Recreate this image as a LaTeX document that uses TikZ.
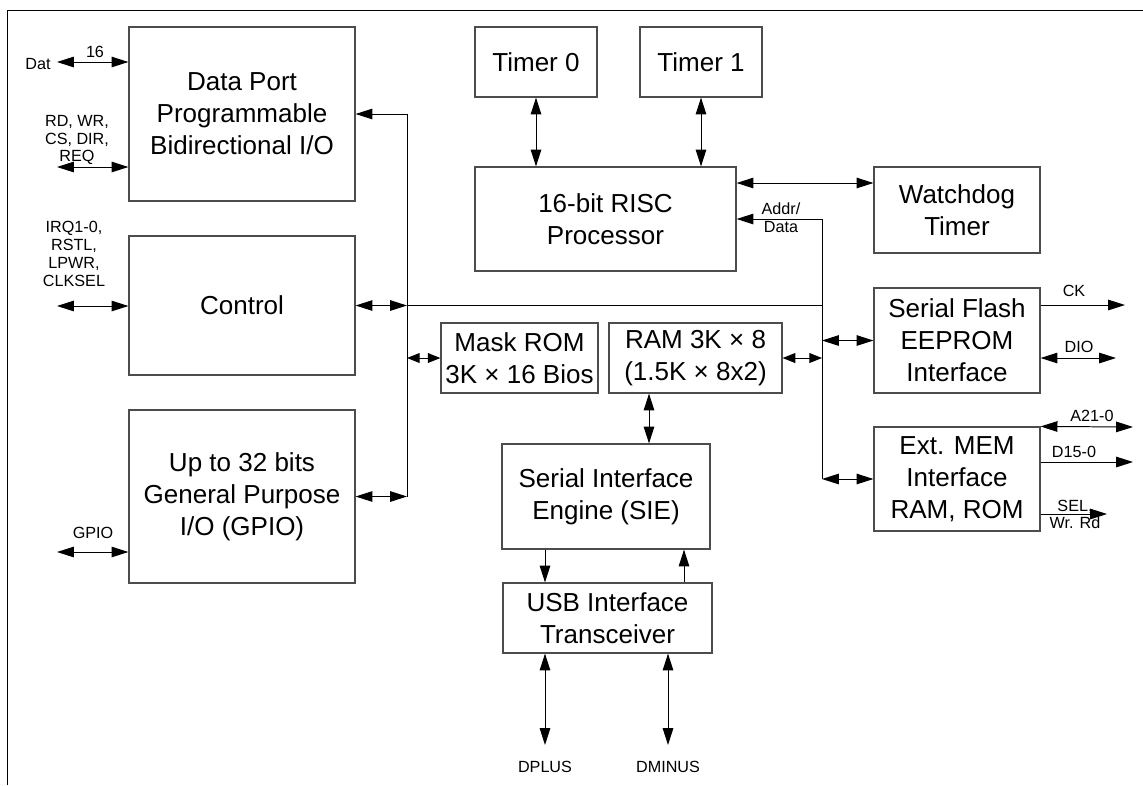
\documentclass[tikz,border=0pt]{standalone}
\usepackage{fontspec}
\setmainfont{Liberation Sans}
\usetikzlibrary{arrows.meta,positioning}

\begin{document}
\begin{tikzpicture}[x=0.025cm,y=-0.025cm,line width=0.7pt,
   >={Triangle[length=12pt,width=7.5pt]},
   blk/.style={draw=black!70,line width=0.8pt,align=center,inner sep=0pt,
      font=\fontsize{18.5}{22.8}\selectfont},
   lbl/.style={align=center,inner sep=0pt,font=\fontsize{11.5}{12.6}\selectfont},
   short/.style={{Triangle[length=9pt,width=7pt]}-{Triangle[length=9pt,width=7pt]}}]
   \useasboundingbox (0,0) rectangle (1143,785);
   \draw (7,785) -- (7,10) -- (1143,10);

   \node[blk,minimum width=5.65cm,minimum height=4.35cm] (dport) at (242,114) {Data Port\\Programmable\\Bidirectional I/O};
   \node[blk,minimum width=5.65cm,minimum height=3.475cm] (ctrl) at (242,305.5) {Control};
   \node[blk,minimum width=5.65cm,minimum height=4.325cm] (gpio) at (242,496.5) {Up to 32 bits\\General Purpose\\I/O (GPIO)};
   \node[blk,minimum width=3.05cm,minimum height=1.75cm] (timer0) at (536,62) {Timer 0};
   \node[blk,minimum width=3.05cm,minimum height=1.75cm] (timer1) at (701,62) {Timer 1};
   \node[blk,minimum width=6.525cm,minimum height=2.6cm] (risc) at (605.5,219) {16-bit RISC\\Processor};
   \node[blk,minimum width=4.15cm,minimum height=2.15cm] (wdog) at (957,210) {Watchdog\\Timer};
   \node[blk,minimum width=4.15cm,minimum height=2.625cm] (flash) at (957,340.5) {Serial Flash\\EEPROM\\Interface};
   \node[blk,minimum width=4.15cm,minimum height=2.6cm] (extmem) at (957,479) {Ext. MEM\\Interface\\RAM, ROM};
   \node[blk,minimum width=3.925cm,minimum height=1.75cm] (mrom) at (519.5,358) {Mask ROM\\3K × 16 Bios};
   \node[blk,minimum width=4.325cm,minimum height=1.75cm] (ram) at (695.5,358) {RAM 3K × 8\\(1.5K × 8x2)};
   \node[blk,minimum width=5.2cm,minimum height=2.625cm] (sie) at (606,496.5) {Serial Interface\\Engine (SIE)};
   \node[blk,minimum width=5.225cm,minimum height=1.75cm] (usb) at (607.5,618) {USB Interface\\Transceiver};

   \coordinate (dat_end) at (57,62);
   \coordinate (rd_end) at (57,167);
   \coordinate (irq_end) at (57,306);
   \coordinate (gpio_end) at (57,552);
   \coordinate (bus_top) at (407,114);
   \coordinate (bus_bot) at (407,497);
   \coordinate (ad_top) at (822,219);
   \coordinate (ad_bot) at (822,479);
   \coordinate (dplus_end) at (545,745);
   \coordinate (dminus_end) at (668,745);
   \coordinate (ck_end) at (1125,305);
   \coordinate (dio_end) at (1116,358);
   \coordinate (a_end) at (1133,427);
   \coordinate (d_end) at (1133,462);
   \coordinate (sel_end) at (1107,514);

   \node[lbl] at (38,64) {Dat};
   \node[lbl] at (95,52) {16};
   \node[lbl] at (77,140) {RD, WR,\\CS, DIR,\\REQ};
   \node[lbl] at (74,254) {IRQ1-0,\\RSTL,\\LPWR,\\CLKSEL};
   \node[lbl] at (93,533) {GPIO};
   \node[lbl] at (781,218) {Addr/\\Data};
   \node[lbl] at (1074,291) {CK};
   \node[lbl] at (1079,347) {DIO};
   \node[lbl] at (1092,416) {A21-0};
   \node[lbl] at (1074,452) {D15-0};
   \node[lbl] at (1075,514.5) {SEL,\\Wr. Rd};
   \node[lbl] at (545,767) {DPLUS};
   \node[lbl] at (668,767) {DMINUS};

   \path[<->]
    (dat_end) edge (dat_end -| dport.west)
    (rd_end) edge (rd_end -| dport.west)
    (irq_end) edge (irq_end -| ctrl.west)
    (gpio_end) edge (gpio_end -| gpio.west)
    (ctrl.east) edge (ctrl.east -| bus_top)
    (gpio.east) edge (gpio.east -| bus_top)
    (mrom.west -| bus_top) edge [short] (mrom.west)
    (timer0.south) edge (timer0.south |- risc.north)
    (timer1.south) edge (timer1.south |- risc.north)
    (risc.east |- 0,183) edge (wdog.west |- 0,183)
    (ram.east) edge [short] (ram.east -| ad_top)
    (flash.west -| ad_top) edge (flash.west)
    (ad_bot) edge (extmem.west)
    (ram.south -| 649,0) edge (sie.north -| 649,0)
    (usb.south -| dplus_end) edge (dplus_end)
    (usb.south -| dminus_end) edge (dminus_end)
    (flash.east |- dio_end) edge (dio_end)
    (extmem.north east) edge (a_end);
   \path[->]
    (sie.south -| 545,0) edge (usb.north -| 545,0)
    (usb.north -| 684,0) edge (sie.south -| 684,0)
    (flash.east |- ck_end) edge (ck_end)
    (extmem.east |- d_end) edge (d_end)
    (extmem.east |- sel_end) edge (sel_end);

   \draw[->] (bus_bot) |- (dport.east);
   \draw[->] (ad_bot) |- (risc.east);
   \draw (ctrl.east -| bus_top) -- (ctrl.east -| ad_top);
\end{tikzpicture}
\end{document}
